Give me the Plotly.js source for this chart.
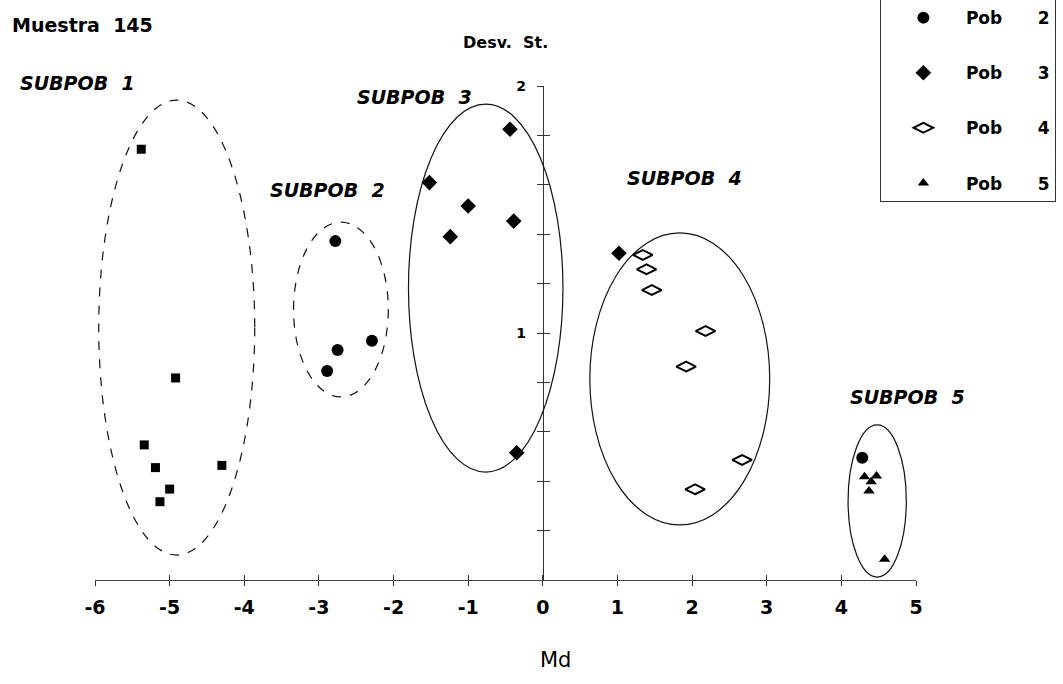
<!DOCTYPE html>
<html>
<head>
<meta charset="utf-8">
<script src="https://cdn.plot.ly/plotly-3.0.1.min.js"></script>
<style>html,body{margin:0;padding:0;background:#fff;}#chart{width:1063px;height:684px;}</style>
</head>
<body>
<div id="chart"></div>
<script>
// ---- data (Md, Desv. St.) ----
var pob1_md = [-5.38, -4.92, -5.34, -5.19, -4.30, -5.00, -5.13];
var pob1_sd = [1.744, 0.818, 0.547, 0.455, 0.464, 0.368, 0.317];

var pob2_md = [-2.78, -2.29, -2.75, -2.89, 4.28];
var pob2_sd = [1.372, 0.969, 0.931, 0.846, 0.495];

var pob3_md = [-0.44, -1.52, -1.00, -0.39, -1.24, -0.35, 1.02];
var pob3_sd = [1.825, 1.609, 1.514, 1.453, 1.390, 0.515, 1.323];

var pob4_md = [1.34, 1.39, 1.46, 2.18, 1.92, 2.67, 2.04];
var pob4_sd = [1.316, 1.258, 1.174, 1.008, 0.864, 0.486, 0.367];

var pob5_md = [4.31, 4.47, 4.40, 4.37, 4.58];
var pob5_sd = [0.418, 0.421, 0.398, 0.360, 0.084];

var SP = '&nbsp;&nbsp;&nbsp;&nbsp;&nbsp;&nbsp;';
// Pob 1's legend row lies above the top edge of the picture in the reference
var popNames = ['', 'Pob' + SP + '2', 'Pob' + SP + '3', 'Pob' + SP + '4', 'Pob' + SP + '5'];

// subpopulation ellipses (Md / Desv. St. extents)
var subpobLabels = ['SUBPOB&nbsp;&nbsp;1', 'SUBPOB&nbsp;&nbsp;2', 'SUBPOB&nbsp;&nbsp;3', 'SUBPOB&nbsp;&nbsp;4', 'SUBPOB&nbsp;&nbsp;5'];
var ell_x0 = [-5.95, -3.34, -1.80, 0.63, 4.09];
var ell_x1 = [-3.86, -2.07, 0.27, 3.04, 4.87];
var ell_y0 = [0.101, 0.741, 0.437, 0.223, 0.012];
var ell_y1 = [1.943, 1.449, 1.927, 1.405, 0.628];
var ell_dash = ['dash', 'dash', 'solid', 'solid', 'solid'];
// label anchor positions (paper fractions)
var lab_px = [-0.0938, 0.2107, 0.3167, 0.6456, 0.9172];
var lab_py = [1.006, 0.789, 0.978, 0.814, 0.370];

var xTicks = [-6, -5, -4, -3, -2, -1, 0, 1, 2, 3, 4, 5];
var xTickText = ['-6', '-5', '-4', '-3', '-2', '-1', '0', '1', '2', '3', '4', '5'];
var yTicks = [0.2, 0.4, 0.6, 0.8, 1.0, 1.2, 1.4, 1.6, 1.8, 2.0];
var yTickText = ['', '', '', '', '1', '', '', '', '', '2'];

var FONT = '"DejaVu Sans", sans-serif';

function tr(x, y, name, symbol, size, extra, grp) {
  var m = {symbol: symbol, size: size, color: '#000'};
  if (extra) { for (var k in extra) m[k] = extra[k]; }
  return {x: x, y: y, name: name, type: 'scatter', mode: 'markers', marker: m,
          legendgroup: grp, cliponaxis: false, hoverinfo: 'x+y'};
}

var data = [
  tr(pob1_md, pob1_sd, popNames[0], 'square', 9, null, 'g1'),
  tr(pob2_md, pob2_sd, popNames[1], 'circle', 12, null, 'g2'),
  tr(pob3_md, pob3_sd, popNames[2], 'diamond', 12, null, 'g3'),
  tr(pob4_md, pob4_sd, popNames[3], 'diamond-wide-open', 14, {line: {width: 2, color: '#000'}}, 'g4'),
  tr(pob5_md, pob5_sd, popNames[4], 'triangle-up', 10, null, 'g5'),
  {x: [null], y: [null], xaxis: 'x2', yaxis: 'y2', type: 'scatter', mode: 'markers', showlegend: false, hoverinfo: 'skip'}
];

var shapes = [];
var annotations = [];
for (var i = 0; i < ell_x0.length; i++) {
  shapes.push({type: 'circle', xref: 'x', yref: 'y', x0: ell_x0[i], x1: ell_x1[i], y0: ell_y0[i], y1: ell_y1[i],
               line: {color: '#111', width: 1.2, dash: ell_dash[i]}});
  annotations.push({xref: 'paper', yref: 'paper', x: lab_px[i], y: lab_py[i], xanchor: 'left', yanchor: 'middle',
                    text: '<b><i>' + subpobLabels[i] + '</i></b>', showarrow: false,
                    font: {family: FONT, size: 19, color: '#000'}});
}
annotations.push({xref: 'paper', yref: 'paper', x: -0.1035, y: 1.1235, xanchor: 'left', yanchor: 'middle',
                  text: '<b>Muestra&nbsp;&nbsp;145</b>', showarrow: false, font: {family: FONT, size: 19, color: '#000'}});
annotations.push({xref: 'paper', yref: 'paper', x: 0.4994, y: 1.089, xanchor: 'center', yanchor: 'middle',
                  text: '<b>Desv.&nbsp;&nbsp;St.</b>', showarrow: false, font: {family: FONT, size: 16, color: '#000'}});
annotations.push({xref: 'paper', yref: 'paper', x: 0.5603, y: -0.162, xanchor: 'center', yanchor: 'middle',
                  text: 'Md', showarrow: false, font: {family: FONT, size: 21, color: '#000'}});

var layout = {
  width: 1063, height: 684,
  margin: {l: 95, r: 147, t: 86, b: 104, autoexpand: false},
  paper_bgcolor: '#fff', plot_bgcolor: '#fff',
  font: {family: FONT, color: '#000'},
  showlegend: true,
  xaxis: {range: [-6, 5], showgrid: false, zeroline: false, showline: true, linecolor: '#444', linewidth: 1,
          tickvals: xTicks, ticktext: xTickText, ticks: 'outside', ticklen: 5, tickcolor: '#333', anchor: 'y', position: 0,
          tickfont: {family: FONT, size: 19, color: '#000', weight: 700}, ticklabelstandoff: 5},
  yaxis: {range: [0, 2], showgrid: false, zeroline: false, showline: true, linecolor: '#333', linewidth: 1,
          anchor: 'free', position: 6 / 11, tickvals: yTicks, ticktext: yTickText, ticks: 'outside', ticklen: 6,
          tickcolor: '#333', tickfont: {family: FONT, size: 14, color: '#000', weight: 700}, ticklabelstandoff: 8},
  xaxis2: {overlaying: 'x', range: [-6, 5], showgrid: false, zeroline: false, showline: false, anchor: 'y',
           tickvals: xTicks, ticks: 'inside', ticklen: 5, tickcolor: '#333', showticklabels: false, side: 'bottom'},
  yaxis2: {overlaying: 'y', range: [0, 2], showgrid: false, zeroline: false, showline: false, anchor: 'free',
           position: 6 / 11, tickvals: yTicks, ticks: 'inside', ticklen: 6, tickcolor: '#333', showticklabels: false, side: 'left'},
  legend: {x: 0.956, y: 1.2875, xanchor: 'left', yanchor: 'top', bgcolor: '#fff', bordercolor: '#333', borderwidth: 1,
           font: {family: FONT, size: 17, color: '#000', weight: 700}, tracegroupgap: 30, itemwidth: 75,
           traceorder: 'grouped'},
  shapes: shapes,
  annotations: annotations
};

Plotly.newPlot('chart', data, layout, {displayModeBar: false, staticPlot: true});
</script>
</body>
</html>
